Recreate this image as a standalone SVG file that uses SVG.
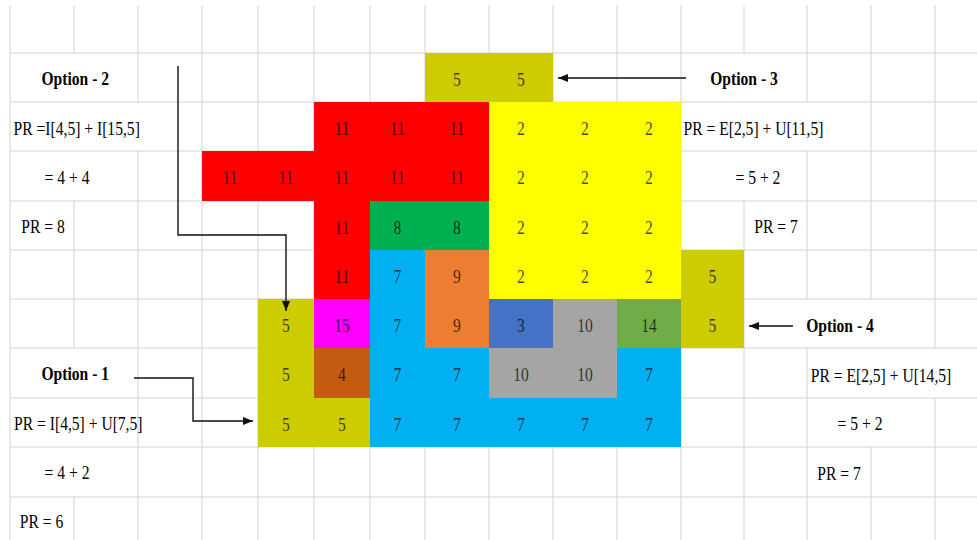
<svg xmlns="http://www.w3.org/2000/svg" width="977" height="540" viewBox="0 0 977 540">
<style>
.g{stroke:#d2d2d2;stroke-width:1;fill:none}
.t{font-family:"Liberation Serif","Times New Roman",serif;font-size:19.5px;text-anchor:middle}
.n{fill:#000;fill-opacity:0.72}
.lb{fill:#000}
.b{font-weight:bold}
.c{stroke:#111;stroke-width:1.4;fill:none}
</style>
<defs>
<marker id="ah" markerUnits="userSpaceOnUse" markerWidth="10" markerHeight="8" refX="10" refY="4" orient="auto">
<path d="M0,0 L10,4 L0,8 z" fill="#111"/>
</marker>
</defs>
<rect width="977" height="540" fill="#fff"/>
<g id="grid" class="g">
<path d="M10,5V540 M74,5V53 M74,201V348 M74,497V540 M138,5V102 M138,151V540 M202,5V540 M258,5V540 M314,5V540 M370,5V540 M425,5V540 M489,5V540 M553,5V540 M617,5V540 M681,5V540 M744,5V53 M744,201V540 M807,5V102 M807,151V299 M807,348V540 M871,5V299 M871,447V540 M935,5V348 M935,398V540"/>
<path d="M10,53H977 M10,102H977 M10,151H977 M10,201H977 M10,250H977 M10,299H977 M10,348H977 M10,398H977 M10,447H977 M10,497H977"/>
</g>
<g id="cells">
<g id="olive-top"><rect x="425" y="53" width="128" height="49" fill="#CCCC00"/></g>
<g id="red"><path d="M314,102H489V201H370V299H314V201H202V151H314z" fill="#FF0000"/></g>
<g id="yellow"><rect x="489" y="102" width="192" height="197" fill="#FFFF00"/></g>
<g id="green8"><rect x="370" y="201" width="119" height="49" fill="#00B050"/></g>
<g id="blue7"><path d="M370,250H425V348H489V398H617V348H681V447H370z" fill="#00B0F0"/></g>
<g id="orange9"><rect x="425" y="250" width="64" height="98" fill="#ED7D31"/></g>
<g id="olive-right"><rect x="681" y="250" width="63" height="98" fill="#CCCC00"/></g>
<g id="olive-left"><path d="M258,299H314V398H370V447H258z" fill="#CCCC00"/></g>
<g id="magenta15"><rect x="314" y="299" width="56" height="49" fill="#FF00FF"/></g>
<g id="brown4"><rect x="314" y="348" width="56" height="50" fill="#C55A11"/></g>
<g id="steel3"><rect x="489" y="299" width="64" height="49" fill="#4472C4"/></g>
<g id="gray10"><path d="M553,299H617V398H489V348H553z" fill="#A5A5A5"/></g>
<g id="green14"><rect x="617" y="299" width="64" height="49" fill="#70AD47"/></g>
</g>
<g id="numbers" class="t n" transform="scale(0.8 1)">
<text x="571.25" y="86">5</text><text x="651.25" y="86">5</text>
<text x="427.5" y="135">11</text><text x="496.9" y="135">11</text><text x="571.25" y="135">11</text><text x="651.25" y="135">2</text><text x="731.25" y="135">2</text><text x="811.25" y="135">2</text>
<text x="287.5" y="184">11</text><text x="357.5" y="184">11</text><text x="427.5" y="184">11</text><text x="496.9" y="184">11</text><text x="571.25" y="184">11</text><text x="651.25" y="184">2</text><text x="731.25" y="184">2</text><text x="811.25" y="184">2</text>
<text x="427.5" y="234">11</text><text x="496.9" y="234">8</text><text x="571.25" y="234">8</text><text x="651.25" y="234">2</text><text x="731.25" y="234">2</text><text x="811.25" y="234">2</text>
<text x="427.5" y="283">11</text><text x="496.9" y="283">7</text><text x="571.25" y="283">9</text><text x="651.25" y="283">2</text><text x="731.25" y="283">2</text><text x="811.25" y="283">2</text><text x="890.6" y="283">5</text>
<text x="357.5" y="332">5</text><text x="427.5" y="332">15</text><text x="496.9" y="332">7</text><text x="571.25" y="332">9</text><text x="651.25" y="332">3</text><text x="731.25" y="332">10</text><text x="811.25" y="332">14</text><text x="890.6" y="332">5</text>
<text x="357.5" y="381">5</text><text x="427.5" y="381">4</text><text x="496.9" y="381">7</text><text x="571.25" y="381">7</text><text x="651.25" y="381">10</text><text x="731.25" y="381">10</text><text x="811.25" y="381">7</text>
<text x="357.5" y="431">5</text><text x="427.5" y="431">5</text><text x="496.9" y="431">7</text><text x="571.25" y="431">7</text><text x="651.25" y="431">7</text><text x="731.25" y="431">7</text><text x="811.25" y="431">7</text>
</g>
<g id="option2" class="t lb" transform="scale(0.8 1)">
<text class="b" x="94.1" y="85">Option - 2</text>
<text x="95.9" y="135">PR =I[4,5] + I[15,5]</text>
<text x="83.8" y="184">= 4 + 4</text>
<text x="53.8" y="233">PR = 8</text>
</g>
<g id="option3" class="t lb" transform="scale(0.8 1)">
<text class="b" x="930" y="85">Option - 3</text>
<text x="941.9" y="135">PR = E[2,5] + U[11,5]</text>
<text x="947.5" y="184">= 5 + 2</text>
<text x="970" y="233">PR = 7</text>
</g>
<g id="option4" class="t lb" transform="scale(0.8 1)">
<text class="b" x="1050" y="332">Option - 4</text>
<text x="1101.3" y="382">PR = E[2,5] + U[14,5]</text>
<text x="1075" y="430">= 5 + 2</text>
<text x="1048.8" y="480">PR = 7</text>
</g>
<g id="option1" class="t lb" transform="scale(0.8 1)">
<text class="b" x="94.1" y="380">Option - 1</text>
<text x="97.9" y="430">PR = I[4,5] + U[7,5]</text>
<text x="83.8" y="479">= 4 + 2</text>
<text x="51.9" y="528">PR = 6</text>
</g>
<g id="connectors" class="c">
<polyline points="178,66 178,235 286,235 286,311" marker-end="url(#ah)"/>
<polyline points="134,378 193,378 193,421 253,421" marker-end="url(#ah)"/>
<line x1="686" y1="78" x2="558" y2="78" marker-end="url(#ah)"/>
<line x1="793" y1="326" x2="749" y2="326" marker-end="url(#ah)"/>
</g>
</svg>
